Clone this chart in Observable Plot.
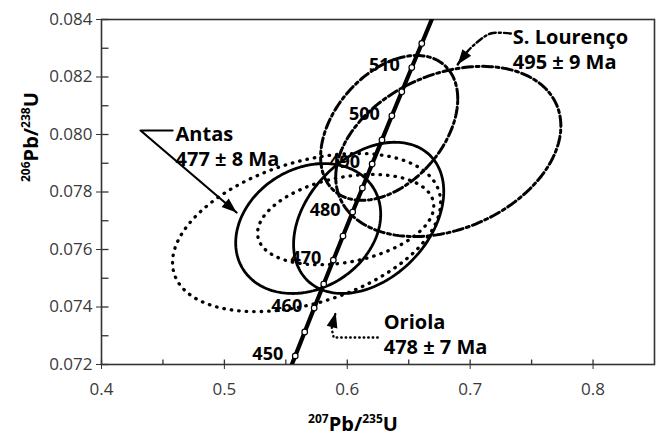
<!DOCTYPE html>
<html><head><meta charset="utf-8">
<script src="https://cdn.jsdelivr.net/npm/d3@7"></script>
<script src="https://cdn.jsdelivr.net/npm/@observablehq/plot@0.6"></script>
<style>body{margin:0;background:#fff;} svg{display:block;background:#fff;}</style>
</head><body><div id="chart"></div>
<script>
// ---- axes ----
const xTicks = [0.4, 0.5, 0.6, 0.7, 0.8];
const xMinorTicks = [0.45, 0.55, 0.65, 0.75];
const yTicks = [0.072, 0.074, 0.076, 0.078, 0.080, 0.082, 0.084];
const yMinorTicks = [0.073, 0.075, 0.077, 0.079, 0.081, 0.083];
const xDomain = [0.4, 0.85];
const yDomain = [0.072, 0.084];

// ---- concordia (age Ma, 207Pb/235U, 206Pb/238U) ----
const concordiaAges = [445, 450, 455, 460, 465, 470, 475, 480, 485, 490, 495, 500, 505, 510, 515, 520, 525];
const concordiaX = [0.55000, 0.55766, 0.56535, 0.57307, 0.58084, 0.58864, 0.59649, 0.60437, 0.61229, 0.62024, 0.62824, 0.63628, 0.64436, 0.65248, 0.66063, 0.66883, 0.67710];
const concordiaY = [0.071469, 0.072300, 0.073133, 0.073966, 0.074798, 0.075632, 0.076467, 0.077302, 0.078138, 0.078974, 0.079812, 0.080650, 0.081488, 0.082328, 0.083167, 0.084008, 0.084850];
const markerAges = [450, 455, 460, 465, 470, 475, 480, 485, 490, 495, 500, 505, 510, 515];
const labelAges = [450, 460, 470, 480, 490, 500, 510];

// ---- error ellipses (centre, half-extent in x and y, correlation) ----
const ellipseSample = ["Oriola", "Oriola", "S. Lourenço", "S. Lourenço", "Antas", "Antas"];
const ellipseCx  = [0.5669, 0.5987, 0.6341, 0.6822, 0.5682, 0.6174];
const ellipseCy  = [0.07659, 0.07704, 0.08023, 0.07941, 0.07673, 0.07710];
const ellipseSx  = [0.1091, 0.0717, 0.0558, 0.0916, 0.0590, 0.0611];
const ellipseSy  = [0.00275, 0.00157, 0.00252, 0.00296, 0.00226, 0.00263];
const ellipseRho = [0.38, 0.30, 0.40, 0.30, 0.22, 0.35];

// ---- sample annotations ----
const sampleNames = ["Antas", "S. Lourenço", "Oriola"];
const sampleAges = ["477 ± 8 Ma", "495 ± 9 Ma", "478 ± 7 Ma"];
const sampleLabelX = [0.46026, 0.73469, 0.62964];
const sampleLabelY = [0.080417, 0.083791, 0.073878];
// leader paths
const antasLeaderX = [0.45782, 0.43176, 0.50993];
const antasLeaderY = [0.080139, 0.080139, 0.077287];
const lourencoLeaderX = [0.73306, 0.71678, 0.70537, 0.69560, 0.68990];
const lourencoLeaderY = [0.083513, 0.083513, 0.083200, 0.082783, 0.082435];
const oriolaLeaderX = [0.62476, 0.58893, 0.58730, 0.59055];
const oriolaLeaderY = [0.072939, 0.072939, 0.073252, 0.073809];

// ---- build tables ----
const concordia = concordiaAges.map((a, i) => ({age: a, x: concordiaX[i], y: concordiaY[i]}));
const byAge = new Map(concordia.map(d => [d.age, d]));
const markers = markerAges.map(a => byAge.get(a));
const ageLabels = labelAges.map(a => byAge.get(a));

const ellipses = ellipseSample.flatMap((s, k) => d3.range(0, 360, 2).map(deg => {
  const t = deg * Math.PI / 180, r = ellipseRho[k];
  return {id: k, sample: s,
    x: ellipseCx[k] + ellipseSx[k] * Math.cos(t),
    y: ellipseCy[k] + ellipseSy[k] * (r * Math.cos(t) + Math.sqrt(1 - r * r) * Math.sin(t))};
}));
const annots = sampleNames.map((n, i) => ({name: n, age: sampleAges[i], x: sampleLabelX[i], y: sampleLabelY[i]}));
const path = (X, Y) => X.map((x, i) => ({x, y: Y[i]}));
const antasLeader = path(antasLeaderX, antasLeaderY);
const lourencoLeader = path(lourencoLeaderX, lourencoLeaderY);
const oriolaLeader = path(oriolaLeaderX, oriolaLeaderY);

function arrowHead(deg) {
  const a = deg * Math.PI / 180, c = Math.cos(a), s = Math.sin(a);
  const pts = [[0, 0], [-5.5, 15], [5.5, 15]].map(([x, y]) => [x * c - y * s, x * s + y * c]);
  return {draw(ctx) { ctx.moveTo(...pts[0]); ctx.lineTo(...pts[1]); ctx.lineTo(...pts[2]); ctx.closePath(); }};
}
const tickUp = {draw(ctx) { ctx.moveTo(0, 0); ctx.lineTo(0, -5); }};
const tickRight = {draw(ctx) { ctx.moveTo(0, 0); ctx.lineTo(7, 0); }};
const tip = p => [p[p.length - 1]];

const font = "'Open Sans', sans-serif";
const dotted = {stroke: "black", strokeWidth: 3.3, strokeDasharray: "0.5 7", strokeLinecap: "round"};
const dashdot = {stroke: "black", strokeWidth: 3, strokeDasharray: "10 3.5 3 3.5"};

const chart = Plot.plot({
  width: 661, height: 435,
  marginLeft: 101, marginRight: 7, marginTop: 19, marginBottom: 71,
  x: {domain: xDomain},
  y: {domain: yDomain},
  style: {fontFamily: font, color: "#333", background: "#fff"},
  marks: [
    Plot.axisX({ticks: xTicks, tickSize: 5, tickPadding: 13, tickFormat: d3.format(".1f"), fontSize: 17, label: null, stroke: "#333", fill: "#3a3a3a"}),
    Plot.axisY({ticks: yTicks, tickSize: 5, tickPadding: 4, tickFormat: d3.format(".3f"), fontSize: 17, label: null, stroke: "#333", fill: "#3a3a3a"}),
    Plot.dot(xTicks.concat(xMinorTicks), {x: d => d, y: () => yDomain[0], symbol: tickUp, fill: "none", stroke: "#333", strokeWidth: 1.3}),
    Plot.dot(yTicks.concat(yMinorTicks), {y: d => d, x: () => xDomain[0], symbol: tickRight, fill: "none", stroke: "#333", strokeWidth: 1.3}),
    Plot.frame({stroke: "#333", strokeWidth: 1.6}),
    // ellipses
    Plot.line(ellipses.filter(d => d.sample === "Oriola"), {x: "x", y: "y", z: "id", curve: "linear-closed", ...dotted}),
    Plot.line(ellipses.filter(d => d.sample === "S. Lourenço"), {x: "x", y: "y", z: "id", curve: "linear-closed", ...dashdot}),
    Plot.line(ellipses.filter(d => d.sample === "Antas"), {x: "x", y: "y", z: "id", curve: "linear-closed", stroke: "black", strokeWidth: 2.8}),
    // leaders
    Plot.line(antasLeader, {x: "x", y: "y", stroke: "black", strokeWidth: 2.2}),
    Plot.line(lourencoLeader, {x: "x", y: "y", stroke: "black", strokeWidth: 2.4, strokeDasharray: "7 3 2 3", curve: "catmull-rom"}),
    Plot.line(oriolaLeader, {x: "x", y: "y", stroke: "black", strokeWidth: 2.4, strokeDasharray: "0.5 4", strokeLinecap: "round"}),
    Plot.dot(tip(antasLeader), {x: "x", y: "y", symbol: arrowHead(130.5), fill: "black", stroke: "none", r: 5}),
    Plot.dot(tip(lourencoLeader), {x: "x", y: "y", symbol: arrowHead(217), fill: "black", stroke: "none", r: 5}),
    Plot.dot(tip(oriolaLeader), {x: "x", y: "y", symbol: arrowHead(14), fill: "black", stroke: "none", r: 5}),
    // concordia
    Plot.line(concordia, {x: "x", y: "y", stroke: "black", strokeWidth: 4.2, clip: true}),
    Plot.dot(markers, {x: "x", y: "y", r: 2.8, fill: "white", stroke: "black", strokeWidth: 1.2}),
    Plot.text(ageLabels, {x: "x", y: "y", text: d => String(d.age), textAnchor: "end", dx: -12, dy: -2, fontSize: 18, fontWeight: "bold", fill: "black"}),
    // annotations
    Plot.text(annots, {x: "x", y: "y", text: d => d.name + "\n" + d.age, textAnchor: "start", lineAnchor: "top", lineHeight: 1.27, fontSize: 20, fontWeight: "bold", fill: "black"}),
    // axis labels (rich text applied below)
    Plot.text(["x"], {frameAnchor: "bottom", text: () => "207Pb/235U", dx: -25, dy: 66, lineAnchor: "bottom", fontSize: 20, fontWeight: "bold", fill: "black"}),
    Plot.text(["y"], {frameAnchor: "left", text: () => "206Pb/238U", rotate: -90, dx: -70, dy: -10, lineAnchor: "middle", fontSize: 20, fontWeight: "bold", fill: "black"})
  ]
});

function richLabel(svg, content, parts) {
  const t = Array.from(svg.querySelectorAll("text")).find(e => e.textContent === content);
  if (!t) return;
  t.textContent = "";
  let shifted = false;
  for (const [str, sup] of parts) {
    const ts = document.createElementNS("http://www.w3.org/2000/svg", "tspan");
    ts.textContent = str;
    ts.setAttribute("font-size", sup ? 12 : 20);
    if (sup && !shifted) { ts.setAttribute("dy", -8); shifted = true; }
    else if (!sup && shifted) { ts.setAttribute("dy", 8); shifted = false; }
    t.appendChild(ts);
  }
}
const svgEl = chart.tagName.toLowerCase() === "svg" ? chart : chart.querySelector("svg");
richLabel(svgEl, "207Pb/235U", [["207", true], ["Pb/", false], ["235", true], ["U", false]]);
richLabel(svgEl, "206Pb/238U", [["206", true], ["Pb/", false], ["238", true], ["U", false]]);
document.getElementById("chart").appendChild(chart);
</script>
</body></html>
